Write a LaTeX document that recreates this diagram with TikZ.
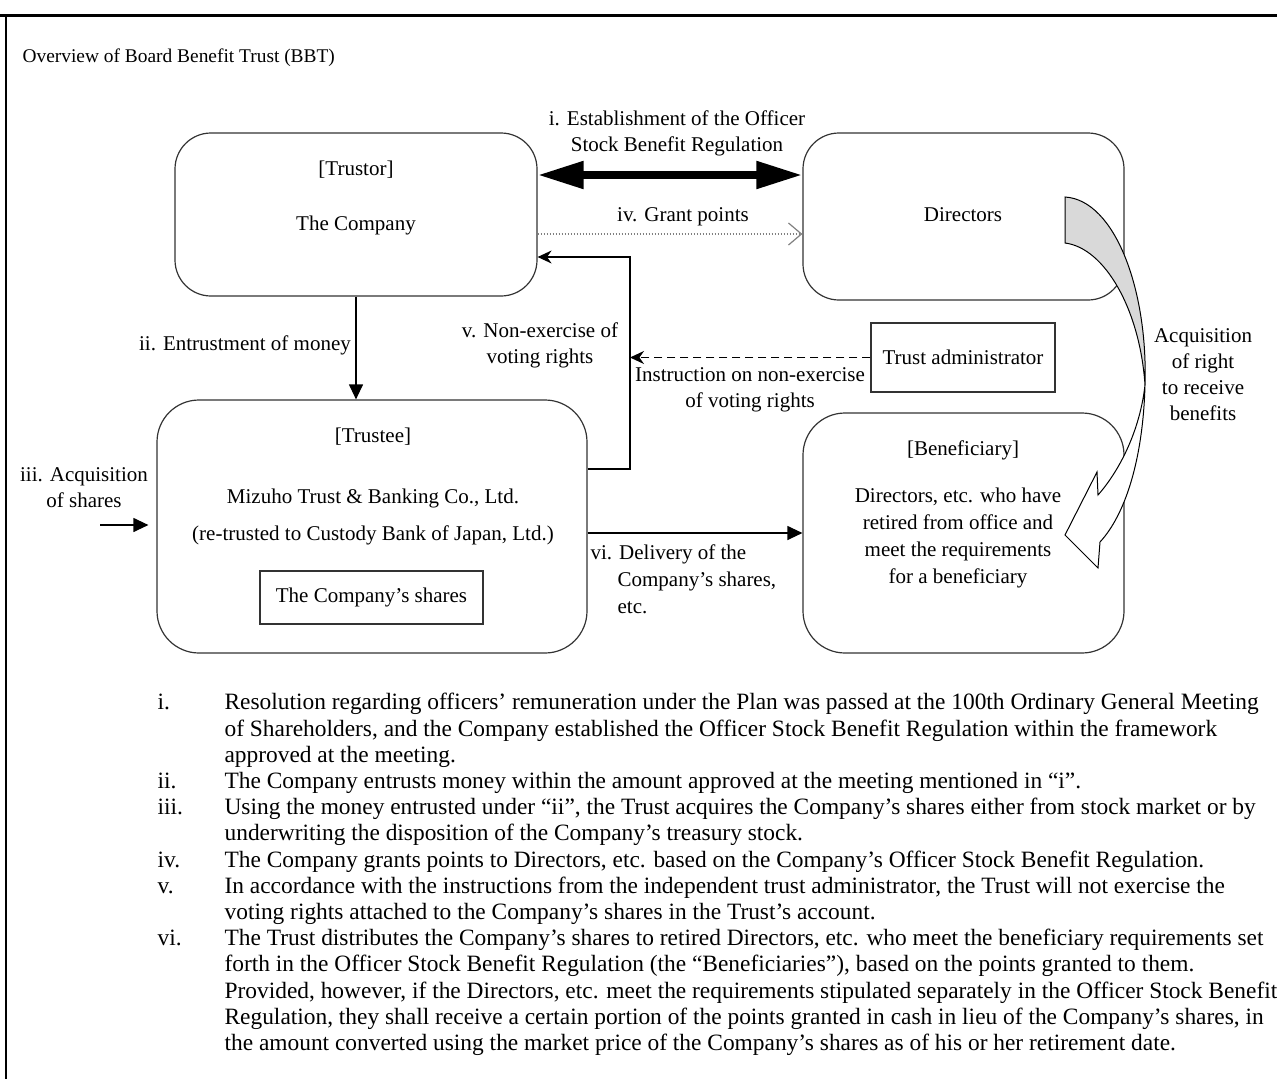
\documentclass[tikz,border=0pt]{standalone}
\usepackage{fontspec}
\setmainfont{Liberation Serif}
\usetikzlibrary{arrows.meta}

\begin{document}
\begin{tikzpicture}
  [x=1pt,y=-1pt,line width=1.2pt,
   every node/.style={font=\fontsize{21}{26}\selectfont,inner sep=0pt,align=center},
   roundbox/.style={draw=black!80,rounded corners=36pt},
   plainbox/.style={draw=black!80},
   tri/.style={-{Triangle[length=15pt,width=14pt]}}]
  \useasboundingbox (0,0) rectangle (1277,1079);
  \draw[line width=3pt] (0,15) -- (1277,15);
  \draw[line width=2.5pt] (6,15) -- (6,1079);

  \node[anchor=west,font=\fontsize{19.4}{24}\selectfont] (title) at (22,58) {Overview of Board Benefit Trust (BBT)};

  \node[roundbox,minimum width=362pt,minimum height=163pt] (trustor) at (356,214.5) {};
  \node[roundbox,minimum width=321pt,minimum height=167pt] (directors) at (963.5,216.5) {};
  \node[roundbox,minimum width=430pt,minimum height=253pt,rounded corners=42pt] (trustee) at (372,526.5) {};
  \node[roundbox,minimum width=321pt,minimum height=240pt,rounded corners=42pt] (beneficiary) at (963.5,533) {};
  \node[plainbox,minimum width=184pt,minimum height=69pt] (admin) at (963,357.5) {Trust administrator};
  \node[plainbox,minimum width=223pt,minimum height=53pt] (shares) at (371.5,597.5) {The Company’s shares};

  \node (trustorhead) at (356,170) {[Trustor]};
  \node (trustorname) at (356,225) {The Company};
  \node (directorsname) at (963,215) {Directors};
  \node (trusteehead) at (373,437) {[Trustee]};
  \node (trusteename) at (373,498) {Mizuho Trust \& Banking Co., Ltd.};
  \node (trusteesub) at (373,535) {(re-trusted to Custody Bank of Japan, Ltd.)};
  \node (benhead) at (963,450) {[Beneficiary]};
  \node[font=\fontsize{21}{27}\selectfont] (benname) at (958,537.5) {Directors, etc. who have\\retired from office and\\meet the requirements\\for a beneficiary};

  \coordinate (yest) at (0,175);
  \coordinate (ygrant) at (0,234);
  \coordinate (vbend) at (630,257);
  \coordinate (yv) at (0,469);
  \coordinate (yvi) at (0,533);
  \coordinate (iiistart) at (100,525);

  \draw[line width=8pt,{Triangle[length=46pt,width=26pt]}-{Triangle[length=46pt,width=26pt]}]
    (trustor.east |- yest) -- (directors.west |- yest);
  \node (estlabel) at (677,133) {i. Establishment of the Officer\\Stock Benefit Regulation};

  \draw[gray,line width=1.2pt,dash pattern=on 1.2pt off 1.8pt,-{Straight Barb[length=13pt,width=22pt]}]
    (trustor.east |- ygrant) -- (directors.west |- ygrant);
  \node (grantlabel) at (683,217) {iv. Grant points};

  \draw[tri] (trustor.south) -- (trustor.south |- trustee.north);
  \node (moneylabel) at (245,345) {ii. Entrustment of money};

  \draw[-{Stealth[length=14pt,width=13pt]}] (trustee.east |- yv) -| (vbend) -- (trustor.east |- vbend);
  \node (nonexlabel) at (540,345) {v. Non-exercise of\\voting rights};

  \draw[dash pattern=on 8pt off 5pt,-{Stealth[length=14pt,width=13pt]}] (admin.west) -- (vbend |- admin.west);
  \node (instrlabel) at (750,390) {Instruction on non-exercise\\of voting rights};

  \draw[tri] (trustee.east |- yvi) -- (beneficiary.west |- yvi);
  \node[anchor=west,align=left,font=\fontsize{21}{27}\selectfont] (deliverylabel) at (590,579)
    {vi. Delivery of the\\\hspace*{27pt}Company’s shares,\\\hspace*{27pt}etc.};

  \draw[tri,shorten >=8pt] (iiistart) -- (trustee.west |- iiistart);
  \node (acqlabel) at (84,488) {iii. Acquisition\\of shares};

  % curved arrow from Directors to Beneficiary
  \draw[fill=gray!30,line width=1pt] (1065,197) .. controls (1115,200) and (1148,290) .. (1145,385)
    .. controls (1140,310) and (1105,248) .. (1065,243) -- cycle;
  \draw[fill=white,line width=1pt] (1145,385) .. controls (1143,460) and (1125,515) .. (1100,542)
    -- (1098,568) -- (1065,535) -- (1097,472) -- (1098,495)
    .. controls (1120,470) and (1140,430) .. (1145,385) -- cycle;
  \node (rightlabel) at (1203,374.5) {Acquisition\\of right\\to receive\\benefits};

  \node[anchor=north west,align=left,font=\fontsize{23.4}{26.2}\selectfont] (notes) at (157,691) {%
    \begin{tabular}{@{}p{67pt}@{}l@{}}
    i. & Resolution regarding officers’ remuneration under the Plan was passed at the 100th Ordinary General Meeting\\
       & of Shareholders, and the Company established the Officer Stock Benefit Regulation within the framework\\
       & approved at the meeting.\\
    ii. & The Company entrusts money within the amount approved at the meeting mentioned in “i”.\\
    iii. & Using the money entrusted under “ii”, the Trust acquires the Company’s shares either from stock market or by\\
       & underwriting the disposition of the Company’s treasury stock.\\
    iv. & The Company grants points to Directors, etc. based on the Company’s Officer Stock Benefit Regulation.\\
    v. & In accordance with the instructions from the independent trust administrator, the Trust will not exercise the\\
       & voting rights attached to the Company’s shares in the Trust’s account.\\
    vi. & The Trust distributes the Company’s shares to retired Directors, etc. who meet the beneficiary requirements set\\
       & forth in the Officer Stock Benefit Regulation (the “Beneficiaries”), based on the points granted to them.\\
       & Provided, however, if the Directors, etc. meet the requirements stipulated separately in the Officer Stock Benefit\\
       & Regulation, they shall receive a certain portion of the points granted in cash in lieu of the Company’s shares, in\\
       & the amount converted using the market price of the Company’s shares as of his or her retirement date.
    \end{tabular}};
\end{tikzpicture}
\end{document}
